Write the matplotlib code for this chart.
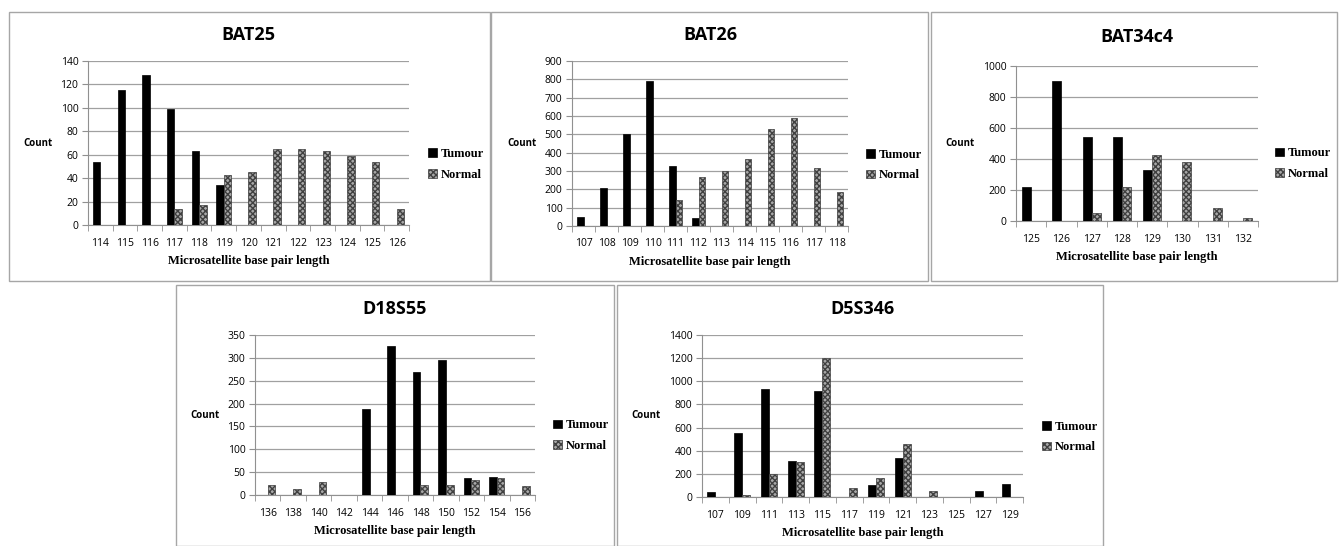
import matplotlib
matplotlib.use('Agg')
import numpy as np
import matplotlib.pyplot as plt
from matplotlib.patches import Rectangle

# data
bat25_len = [114, 115, 116, 117, 118, 119, 120, 121, 122, 123, 124, 125, 126]
bat25_tum = [54, 115, 128, 99, 63, 34, 0, 0, 0, 0, 0, 0, 0]
bat25_nor = [0, 0, 0, 14, 17, 43, 45, 65, 65, 63, 59, 54, 14]

bat26_len = [107, 108, 109, 110, 111, 112, 113, 114, 115, 116, 117, 118]
bat26_tum = [50, 210, 500, 790, 325, 45, 0, 0, 0, 0, 0, 0]
bat26_nor = [0, 0, 0, 0, 140, 270, 300, 365, 530, 590, 315, 185]

bat34_len = [125, 126, 127, 128, 129, 130, 131, 132]
bat34_tum = [220, 905, 545, 540, 330, 0, 0, 0]
bat34_nor = [0, 0, 50, 220, 425, 380, 85, 20]

d18_len = [136, 138, 140, 142, 144, 146, 148, 150, 152, 154, 156]
d18_tum = [0, 0, 0, 0, 188, 327, 270, 296, 37, 39, 0]
d18_nor = [21, 14, 29, 0, 0, 0, 21, 21, 32, 37, 19]

d5_len = [107, 109, 111, 113, 115, 117, 119, 121, 123, 125, 127, 129]
d5_tum = [45, 550, 930, 310, 920, 0, 100, 340, 0, 0, 55, 115]
d5_nor = [0, 20, 200, 300, 1205, 80, 165, 460, 55, 0, 0, 0]

W, H = 1339, 546
fig = plt.figure(figsize=(W / 100, H / 100), dpi=100)


def fbox(x0, y0, x1, y1):
    return [x0 / W, 1 - y1 / H, (x1 - x0) / W, (y1 - y0) / H]


def panel(box, axbox, title, title_y, labels, tum, nor, ymax, ystep):
    # frame around each chart
    b = fbox(*box)
    fig.patches.append(Rectangle((b[0], b[1]), b[2], b[3], transform=fig.transFigure,
                                 fill=False, edgecolor='#a6a6a6', lw=1))
    ax = fig.add_axes(fbox(*axbox))
    x = np.arange(len(labels))
    w = 0.3
    ax.bar(x - w / 2, tum, w, color='black', edgecolor='black', lw=0.5, label='Tumour', zorder=3)
    ax.bar(x + w / 2, nor, w, color='#a8a8a8', edgecolor='#404040', hatch='xxxxxx',
           lw=0.5, label='Normal', zorder=3)
    ax.set_xlim(-0.5, len(labels) - 0.5)
    ax.set_ylim(0, ymax)
    ax.set_yticks(np.arange(0, ymax + 1, ystep))
    ax.yaxis.grid(True, color='#a0a0a0', lw=0.9)
    ax.set_axisbelow(True)
    ax.set_xticks(x)
    ax.set_xticklabels([str(v) for v in labels], fontsize=7.5, family='Open Sans')
    ax.set_xticks(np.arange(-0.5, len(labels)), minor=True)
    ax.tick_params(axis='x', which='major', length=0, pad=9)
    ax.tick_params(axis='x', which='minor', length=4, color='#909090')
    ax.tick_params(axis='y', length=4, color='#909090', labelsize=7.5, pad=3)
    for t in ax.get_yticklabels():
        t.set_family('Open Sans')
    for s in ['top', 'right']:
        ax.spines[s].set_visible(False)
    for s in ['left', 'bottom']:
        ax.spines[s].set_color('#909090')
    fig.text((axbox[0] + axbox[2]) / 2 / W, 1 - title_y / H, title, fontsize=13,
             fontweight='bold', family='Open Sans', ha='center', va='center')
    ax.set_xlabel('Microsatellite base pair length', fontsize=9, fontweight='bold',
                  family='Liberation Serif', labelpad=5)
    ax.set_ylabel('Count', fontsize=7, fontweight='bold', family='Open Sans',
                  rotation=0, labelpad=16, va='center')
    ax.legend(loc='center left', bbox_to_anchor=(1.025, 0.37), frameon=False,
              prop={'family': 'Liberation Serif', 'weight': 'bold', 'size': 9},
              handlelength=0.7, handleheight=0.7, handletextpad=0.3, labelspacing=0.7)
    return ax


panel((9, 12, 490, 281), (88, 61, 409, 225), 'BAT25', 35, bat25_len, bat25_tum, bat25_nor, 140, 20)
panel((491, 12, 928, 281), (572, 61, 848, 226), 'BAT26', 35, bat26_len, bat26_tum, bat26_nor, 900, 100)
panel((931, 12, 1337, 281), (1016, 66, 1258, 221), 'BAT34c4', 37, bat34_len, bat34_tum, bat34_nor, 1000, 200)
panel((176, 285, 614, 546), (255, 335, 535, 495), 'D18S55', 309, d18_len, d18_tum, d18_nor, 350, 50)
panel((617, 285, 1103, 546), (702, 335, 1023, 497), 'D5S346', 309, d5_len, d5_tum, d5_nor, 1400, 200)

plt.savefig('out.png', dpi=100)
